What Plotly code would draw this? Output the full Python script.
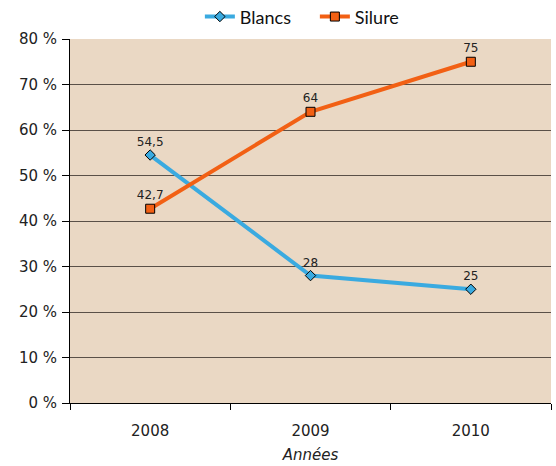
import plotly.graph_objects as go

years = ["2008", "2009", "2010"]
blancs = [54.5, 28, 25]
silure = [42.7, 64, 75]
y_ticks = [0, 10, 20, 30, 40, 50, 60, 70, 80]
y_tick_labels = [f"{v} %" for v in y_ticks]


def fr(v):
    return f"{v:g}".replace(".", ",")


fig = go.Figure()
fig.add_trace(go.Scatter(
    x=years, y=blancs, name="Blancs", mode="lines+markers+text",
    line=dict(color="#3AAAE0", width=4),
    marker=dict(symbol="diamond", size=8, color="#3AAAE0",
                line=dict(color="black", width=1)),
    text=[fr(v) for v in blancs], textposition="top center",
    textfont=dict(family="DejaVu Sans", size=12, color="#222"),
))
fig.add_trace(go.Scatter(
    x=years, y=silure, name="Silure", mode="lines+markers+text",
    line=dict(color="#F26014", width=4),
    marker=dict(symbol="square", size=9, color="#F26014",
                line=dict(color="black", width=1)),
    text=[fr(v) for v in silure], textposition="top center",
    textfont=dict(family="DejaVu Sans", size=12, color="#222"),
))

fig.update_layout(
    width=556, height=466,
    margin=dict(l=70, r=5, t=39, b=63, autoexpand=False),
    paper_bgcolor="white",
    plot_bgcolor="#EAD8C4",
    font=dict(family="DejaVu Sans", size=15, color="#222"),
    showlegend=True,
    legend=dict(orientation="h", x=0.27, xanchor="left",
                y=1.01, yanchor="bottom",
                font=dict(family="Lato", size=18, color="#111"),
                bgcolor="rgba(0,0,0,0)", itemwidth=30, tracegroupgap=0,
                entrywidth=70),
    xaxis=dict(
        type="category", tickson="boundaries", ticks="outside", ticklen=6,
        tickcolor="black", showline=True, linecolor="black", linewidth=1,
        showgrid=False, range=[-0.5, 2.5], ticklabelstandoff=14,
        title=dict(text="<i>Années</i>", font=dict(family="DejaVu Sans", size=15),
                   standoff=10),
        tickfont=dict(family="DejaVu Sans", size=15),
    ),
    yaxis=dict(
        range=[0, 80], tickvals=y_ticks, ticktext=y_tick_labels,
        ticks="outside", ticklen=7, tickcolor="black",
        showline=True, linecolor="black", linewidth=1,
        showgrid=True, gridcolor="#5a5048", gridwidth=1, zeroline=False,
        tickfont=dict(family="DejaVu Sans", size=15), ticklabelstandoff=2,
    ),
)

fig.write_html("out.html")
